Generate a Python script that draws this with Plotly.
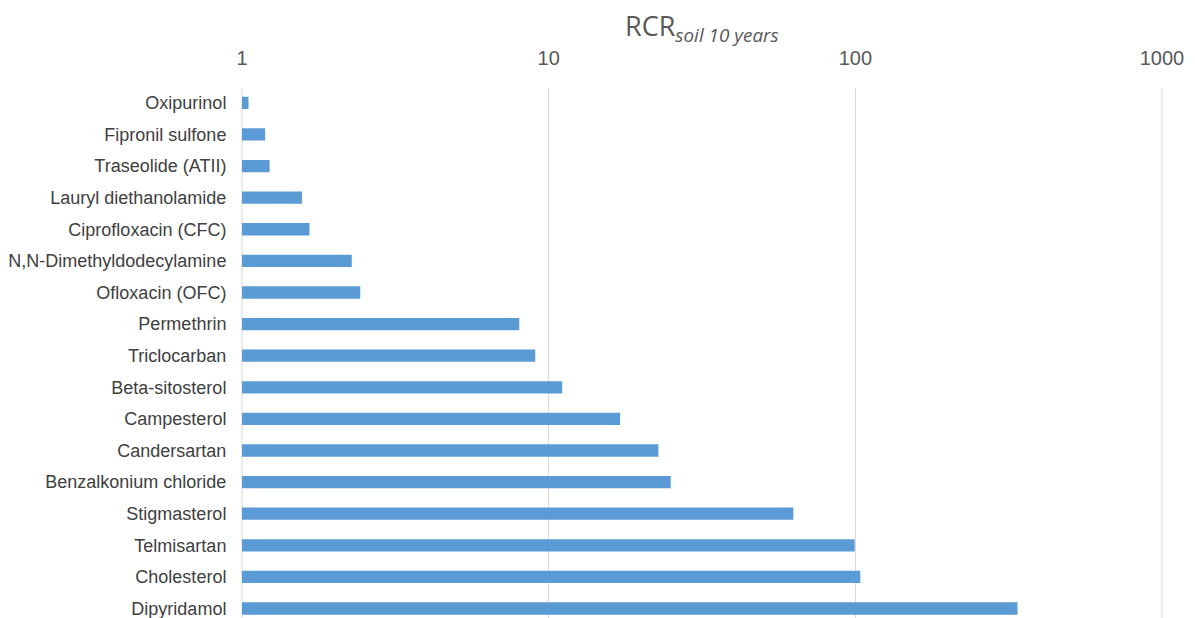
import plotly.graph_objects as go

# Risk characterisation ratios for soil after 10 years of application
compounds = [
    "Oxipurinol", "Fipronil sulfone", "Traseolide (ATII)", "Lauryl diethanolamide",
    "Ciprofloxacin (CFC)", "N,N-Dimethyldodecylamine", "Ofloxacin (OFC)", "Permethrin",
    "Triclocarban", "Beta-sitosterol", "Campesterol", "Candersartan",
    "Benzalkonium chloride", "Stigmasterol", "Telmisartan", "Cholesterol", "Dipyridamol",
]
rcr_values = [
    1.05, 1.19, 1.23, 1.57, 1.66, 2.28, 2.43, 8.02, 9.04, 11.07,
    17.1, 22.8, 25.0, 62.8, 99.5, 103.8, 338,
]
x_ticks = [1, 10, 100, 1000]

positions = list(range(len(compounds)))

fig = go.Figure(
    go.Bar(
        x=rcr_values,
        y=positions,
        orientation="h",
        width=0.39,
        marker=dict(color="#5b9bd5", line=dict(width=0)),
    )
)

# gridlines at the two ends of the log range
for edge in (0, 1):
    fig.add_shape(
        type="line", xref="paper", yref="paper",
        x0=edge, x1=edge, y0=0, y1=1,
        line=dict(color="#d9d9d9", width=1),
        layer="below",
    )

fig.update_layout(
    width=1195,
    height=618,
    margin=dict(l=242, r=33, t=88, b=0),
    paper_bgcolor="white",
    plot_bgcolor="white",
    showlegend=False,
    xaxis=dict(
        type="log",
        side="top",
        range=[0, 3],
        tickvals=x_ticks,
        ticktext=[str(v) for v in x_ticks],
        showgrid=True,
        gridcolor="#d9d9d9",
        gridwidth=1,
        zeroline=False,
        showline=False,
        ticks="outside",
        ticklen=14,
        tickcolor="rgba(0,0,0,0)",
        tickfont=dict(family="Liberation Sans", size=20, color="#595959"),
    ),
    yaxis=dict(
        range=[16.3, -0.47],
        tickvals=positions,
        ticktext=compounds,
        ticklabeloverflow="allow",
        showgrid=False,
        zeroline=False,
        showline=False,
        ticks="outside",
        ticklen=11,
        tickcolor="rgba(0,0,0,0)",
        tickfont=dict(family="Liberation Sans", size=18, color="#404040"),
    ),
    annotations=[
        dict(
            text="RCR<sub><i>soil 10 years</i></sub>",
            xref="paper",
            yref="paper",
            x=0.5,
            y=1,
            yshift=38,
            xanchor="center",
            yanchor="bottom",
            showarrow=False,
            font=dict(family="Open Sans", size=27, color="#595959"),
        )
    ],
)

fig.write_html("out.html")
